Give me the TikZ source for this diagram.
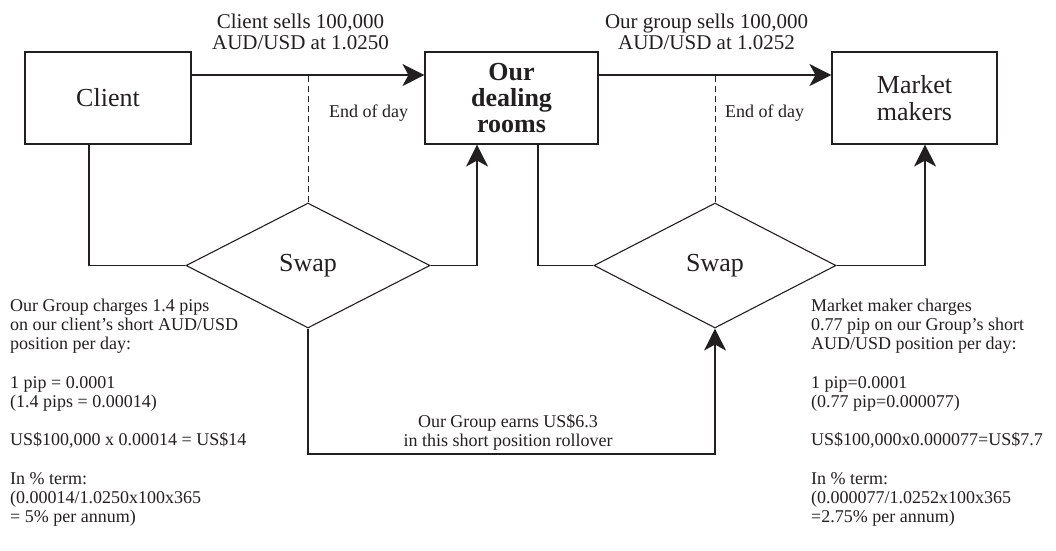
\documentclass[tikz,border=0pt]{standalone}
\usepackage{fontspec}
\setmainfont{Liberation Serif}
\usetikzlibrary{arrows.meta,shapes.geometric}
\definecolor{ink}{RGB}{35,31,32}
\begin{document}
\begin{tikzpicture}[x=1pt,y=-1pt,
  every node/.style={text=ink},
  line/.style={draw=ink,line width=1.1pt},
  arr/.style={line,-{Stealth[length=22pt,width=22pt,inset=6pt]}},
  guide/.style={draw=ink,line width=0.9pt,dash pattern=on 6pt off 4pt},
  party/.style={draw=ink,line width=1.1pt,minimum height=92pt,inner sep=0pt,
    align=center,font=\fontsize{26}{26.5}\selectfont},
  swapbox/.style={diamond,draw=ink,line width=1.1pt,aspect=2,minimum height=125pt,
    inner sep=0pt,font=\fontsize{26}{27}\selectfont},
  deal/.style={font=\fontsize{21}{21}\selectfont,align=center,inner sep=0pt},
  note/.style={font=\fontsize{18}{19.2}\selectfont,align=left,inner sep=0pt},
]
\useasboundingbox (0,0) rectangle (1056,550);

% parties
\node[party,minimum width=166pt] (client) at (108,98) {Client};
\node[party,minimum width=173pt,font=\fontsize{26}{26}\selectfont\bfseries] (dealing) at (511.5,98) {Our\\dealing\\rooms};
\node[party,minimum width=165pt] (market) at (914.5,98) {Market\\makers};

% swaps
\node[swapbox,minimum width=244pt] (swapA) at (308,265.5) {Swap};
\node[swapbox,minimum width=242pt] (swapB) at (715,265.5) {Swap};

% spot trades, drawn above the box centres
\coordinate (spotA) at ([yshift=23pt]dealing.west);
\coordinate (spotB) at ([yshift=23pt]market.west);
\draw[arr] ([yshift=23pt]client.east) -- (spotA);
\draw[arr] ([yshift=23pt]dealing.east) -- (spotB);
\node[deal] (tradeA) at (300.5,31.5) {Client sells 100,000\\AUD/USD at 1.0250};
\node[deal] (tradeB) at (706.5,31.5) {Our group sells 100,000\\AUD/USD at 1.0252};

% end-of-day rollover markers
\draw[guide] (swapA.north) -- (swapA.north |- spotA);
\draw[guide] (swapB.north) -- (swapB.north |- spotB);
\node[note,anchor=base west] (eodA) at (329,117) {End of day};
\node[note,anchor=base west] (eodB) at (725,117) {End of day};

% swap legs
\draw[line] ([xshift=-19pt]client.south) |- (swapA.west);
\draw[arr] (swapA.east) -| ([xshift=-34.5pt]dealing.south);
\draw[line] ([xshift=26.5pt]dealing.south) |- (swapB.west);
\draw[arr] (swapB.east) -| ([xshift=10.5pt]market.south);

% rollover profit
\coordinate (low) at (0,454);
\draw[arr] (swapA.south) -- (swapA.south |- low) -- (swapB.south |- low) -- (swapB.south);
\node[note,align=center] (earn) at (508,432) {Our Group earns US\$6.3\\in this short position rollover};

% calculations
\node[note,anchor=north west] (calcA) at (10,298.7) {Our Group charges 1.4 pips\\
on our client’s short AUD/USD\\position per day:\\[19.2pt]
1 pip = 0.0001\\(1.4 pips = 0.00014)\\[19.2pt]
US\$100,000 x 0.00014 = US\$14\\[19.2pt]
In \% term:\\(0.00014/1.0250x100x365\\= 5\% per annum)};
\node[note,anchor=north west] (calcB) at (811,298.7) {Market maker charges\\
0.77 pip on our Group’s short\\AUD/USD position per day:\\[19.2pt]
1 pip=0.0001\\(0.77 pip=0.000077)\\[19.2pt]
US\$100,000x0.000077=US\$7.7\\[19.2pt]
In \% term:\\(0.000077/1.0252x100x365\\=2.75\% per annum)};
\end{tikzpicture}
\end{document}
